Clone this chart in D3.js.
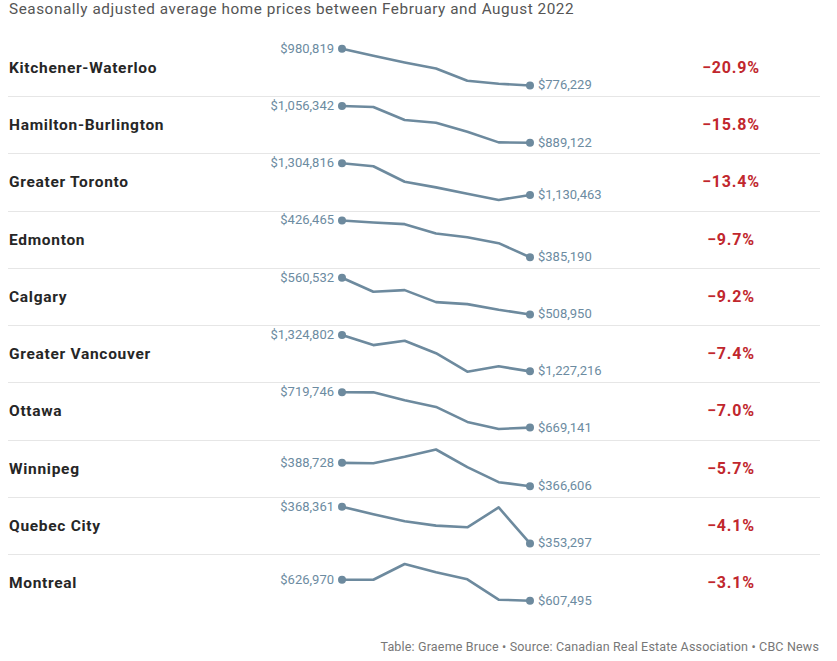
<!DOCTYPE html>
<html>
<head>
<meta charset="utf-8">
<script src="https://cdn.jsdelivr.net/npm/d3@7"></script>
<style>
  body { margin: 0; background: #fff; }
  svg { font-family: Roboto, "Noto Sans", sans-serif; display: block; }
</style>
</head>
<body>
<svg id="chart" width="837" height="661"></svg>
<script>
// home prices, Feb..Aug 2022 (seasonally adjusted)
let months = ["Feb", "Mar", "Apr", "May", "Jun", "Jul", "Aug"];
let cities = [
  "Kitchener-Waterloo", "Hamilton-Burlington", "Greater Toronto", "Edmonton", "Calgary",
  "Greater Vancouver", "Ottawa", "Winnipeg", "Quebec City", "Montreal"
];
let kitchener = [980819, 941760, 904560, 871080, 802260, 785519, 776229];
let hamilton = [1056342, 1051780, 992500, 980340, 939300, 890660, 889122];
let toronto = [1304816, 1288470, 1203120, 1172250, 1137740, 1103240, 1130463];
let edmonton = [426465, 424215, 422340, 411840, 407715, 400965, 385190];
let calgary = [560532, 540834, 543179, 526295, 523481, 515508, 508950];
let vancouver = [1324802, 1297694, 1309441, 1276008, 1226310, 1240767, 1227216];
let ottawa = [719746, 719600, 708290, 698756, 677257, 667232, 669141];
let winnipeg = [388728, 388412, 394416, 401368, 384620, 370400, 366606];
let quebec = [368361, 365321, 362418, 360622, 359931, 368085, 353297];
let montreal = [626970, 626900, 641498, 633770, 627279, 608424, 607495];
let changes = ["−20.9%", "−15.8%", "−13.4%", "−9.7%", "−9.2%", "−7.4%", "−7.0%", "−5.7%", "−4.1%", "−3.1%"];

let series = [kitchener, hamilton, toronto, edmonton, calgary, vancouver, ottawa, winnipeg, quebec, montreal];

let lineColor = "#6d8a9e";
let labelColor = "#6c8ba1";
let red = "#c1272d";

const svg = d3.select("#chart");

const row = d3.scaleBand().domain(cities).range([38.75, 611.25]);
const x = d3.scalePoint().domain(months).range([342, 530]);
const fmt = d3.format("$,");

svg.append("text")
  .attr("x", 9).attr("y", 14)
  .attr("font-size", 15.3)
  .attr("letter-spacing", 0.55)
  .attr("fill", "#555")
  .text("Seasonally adjusted average home prices between February and August 2022");

// separators
svg.append("g")
  .selectAll("line")
  .data(cities.slice(1))
  .join("line")
  .attr("x1", 8).attr("x2", 820)
  .attr("y1", (d) => Math.round(row(d)) + 0.5)
  .attr("y2", (d) => Math.round(row(d)) + 0.5)
  .attr("stroke", "#e6e6e6");

const rows = svg.append("g")
  .selectAll("g")
  .data(cities)
  .join("g")
  .attr("transform", (d) => `translate(0,${row(d)})`);

rows.append("text")
  .attr("x", 9)
  .attr("y", row.bandwidth() / 2)
  .attr("dy", "0.35em")
  .attr("font-size", 15.5)
  .attr("letter-spacing", 0.7)
  .attr("font-weight", "bold")
  .attr("fill", "#262626")
  .text((d) => d);

rows.append("text")
  .attr("x", 731)
  .attr("y", row.bandwidth() / 2)
  .attr("dy", "0.35em")
  .attr("text-anchor", "middle")
  .attr("font-size", 16)
  .attr("letter-spacing", 0.8)
  .attr("font-weight", "bold")
  .attr("fill", red)
  .text((d, i) => changes[i]);

rows.each(function (city, i) {
  const vals = series[i];
  const g = d3.select(this);
  const y = d3.scaleLinear().domain(d3.extent(vals)).range([46.7, 10]);
  const line = d3.line().x((d, j) => x(months[j])).y((d) => y(d));

  g.append("path")
    .attr("d", line(vals))
    .attr("fill", "none")
    .attr("stroke", lineColor)
    .attr("stroke-width", 2.6)
    .attr("stroke-linejoin", "round");

  const ends = [0, vals.length - 1];
  g.selectAll("circle")
    .data(ends)
    .join("circle")
    .attr("cx", (j) => x(months[j]))
    .attr("cy", (j) => y(vals[j]))
    .attr("r", 4)
    .attr("fill", lineColor);

  g.selectAll("text.val")
    .data(ends)
    .join("text")
    .attr("class", "val")
    .attr("x", (j) => x(months[j]) + (j === 0 ? -8 : 8))
    .attr("y", (j) => y(vals[j]))
    .attr("dy", "0.3em")
    .attr("text-anchor", (j) => (j === 0 ? "end" : "start"))
    .attr("font-size", 13)
    .attr("fill", labelColor)
    .text((j) => fmt(vals[j]));
});

svg.append("text")
  .attr("x", 819).attr("y", 651)
  .attr("text-anchor", "end")
  .attr("font-size", 12.5)
  .attr("letter-spacing", 0.17)
  .attr("fill", "#777")
  .text("Table: Graeme Bruce • Source: Canadian Real Estate Association • CBC News");
</script>
</body>
</html>
